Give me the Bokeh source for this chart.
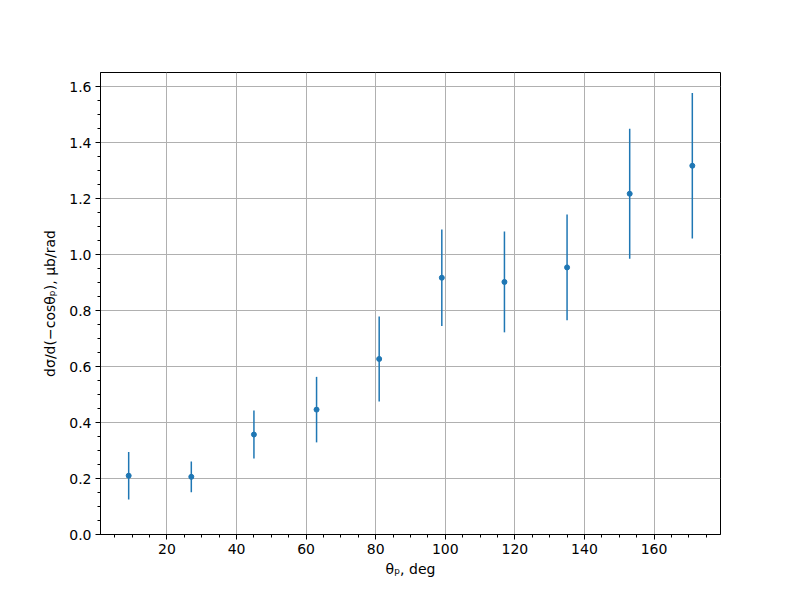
from bokeh.plotting import figure
from bokeh.models import Range1d, FixedTicker, NumeralTickFormatter, ColumnDataSource
from bokeh.embed import file_html
from bokeh.resources import INLINE

theta = [9, 27, 45, 63, 81, 99, 117, 135, 153, 171]
xsec = [0.210, 0.206, 0.357, 0.446, 0.627, 0.917, 0.902, 0.954, 1.217, 1.317]
err = [0.085, 0.055, 0.086, 0.117, 0.152, 0.172, 0.180, 0.189, 0.232, 0.260]
x_ticks = [20, 40, 60, 80, 100, 120, 140, 160]
y_ticks = [0.0, 0.2, 0.4, 0.6, 0.8, 1.0, 1.2, 1.4, 1.6]

lo = [v - e for v, e in zip(xsec, err)]
hi = [v + e for v, e in zip(xsec, err)]
src = ColumnDataSource(dict(x=theta, y=xsec, lo=lo, hi=hi))

p = figure(width=800, height=600, output_backend="svg", toolbar_location=None,
           x_range=Range1d(0.9, 179.1), y_range=Range1d(0.0, 1.65),
           min_border_left=100, min_border_right=80, min_border_top=72, min_border_bottom=66)
p.background_fill_color = "white"
p.border_fill_color = "white"
p.outline_line_color = "black"
p.outline_line_width = 1
p.outline_line_alpha = 1

color = "#1f77b4"
p.segment(x0="x", y0="lo", x1="x", y1="hi", source=src, line_color=color, line_width=1.5)
p.scatter(x="x", y="y", source=src, size=5, fill_color=color, line_color=color)

font = "DejaVu Sans"
p.xaxis.ticker = FixedTicker(ticks=x_ticks, minor_ticks=list(range(5, 180, 5)))
p.yaxis.ticker = FixedTicker(ticks=y_ticks, minor_ticks=[i * 0.05 for i in range(0, 34)])
p.yaxis.formatter = NumeralTickFormatter(format="0.0")

for ax in (p.xaxis[0], p.yaxis[0]):
    ax.axis_line_color = "black"
    ax.major_tick_line_color = "black"
    ax.minor_tick_line_color = "black"
    ax.major_tick_out = 5
    ax.major_tick_in = 0
    ax.minor_tick_out = 3
    ax.minor_tick_in = 0
    ax.major_label_text_font = font
    ax.major_label_text_font_size = "14px"
    ax.major_label_text_color = "black"
    ax.axis_label_text_font = font
    ax.axis_label_text_font_size = "14px"
    ax.axis_label_text_font_style = "normal"
    ax.axis_label_text_color = "black"

p.xaxis.axis_label = "θₚ, deg"
p.yaxis.axis_label = "dσ/d(−cosθₚ), μb/rad"
p.xaxis.major_label_standoff = 4
p.yaxis.major_label_standoff = 4
p.xaxis.axis_label_standoff = 4
p.yaxis.axis_label_standoff = 8

p.xgrid.ticker = FixedTicker(ticks=x_ticks)
p.ygrid.ticker = FixedTicker(ticks=y_ticks)
p.grid.grid_line_color = "#b0b0b0"
p.grid.grid_line_width = 1

open("out.html", "w").write(file_html(p, INLINE))
